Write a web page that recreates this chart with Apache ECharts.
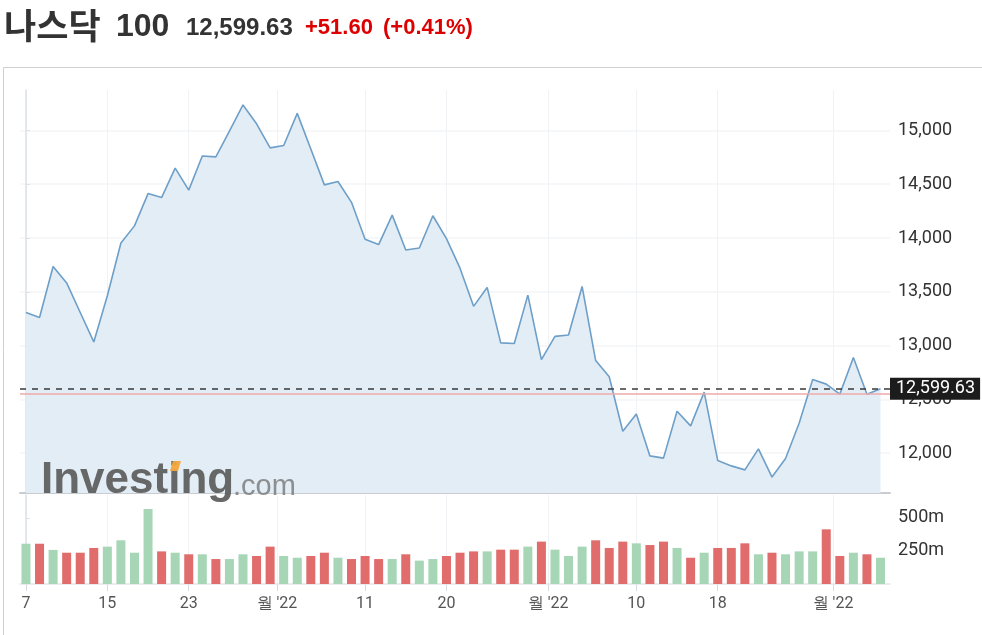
<!DOCTYPE html>
<html><head><meta charset="utf-8">
<script src="https://cdn.jsdelivr.net/npm/echarts@6/dist/echarts.min.js"></script>
<style>html,body{margin:0;padding:0;background:#fff}#c{width:982px;height:635px}</style>
</head><body><div id="c"></div>
<script>
// ---- data ----
const titleKo = '나스닥';
const titleNum = '100';
const lastPriceText = '12,599.63';
const changeText = '+51.60';
const changePctText = '(+0.41%)';

const closes = [13308,13261,13736,13583,13308,13034,13464,13954,14113,14413,
  14376,14650,14445,14763,14754,14994,15237,15062,14838,14860,
  15159,14828,14494,14525,14332,13989,13939,14213,13889,13907,
  14207,13995,13720,13365,13541,13025,13019,13469,12870,13086,
  13099,13550,12861,12710,12204,12365,11975,11954,12390,12254,
  12568,11931,11882,11845,12040,11778,11951,12278,12685,12642,
  12549,12889,12548,12599.63];
const volumes = [305,305,258,237,237,273,283,331,237,568,
  247,237,225,225,189,189,225,212,283,212,
  199,212,237,199,189,212,189,189,225,177,
  189,212,237,247,247,260,260,283,321,260,
  212,283,331,273,321,308,295,321,273,199,
  237,273,273,308,225,237,225,247,247,414,
  212,237,225,199];
const xTickPos = [0,6,12,18.5,25,31,38.5,45,51,59.5];
const xTickLabels = ['7','15','23',"월 '22",'11','20',"월 '22",'10','18',"월 '22"];
const priceTicks = [12000,12500,13000,13500,14000,14500,15000];
const volTicks = [250,500];
const lastPrice = 12599.63;
const prevClose = 12548.03;

// ---- chart ----
const GREEN = '#a6d6b6', RED = '#e06c6c';
const lineData = closes.map((v, i) => [i, v]);
const barData = volumes.map((v, i) => ({
  value: [i, v],
  itemStyle: { color: (i === 0 || closes[i] >= closes[i - 1]) ? GREEN : RED }
}));
const xLabelFmt = v => {
  for (let k = 0; k < xTickPos.length; k++) if (Math.abs(xTickPos[k] - v) < 1e-6) return xTickLabels[k];
  return '';
};
const fmtNum = v => v.toLocaleString('en-US');
const AX_FONT = 'Roboto';

const chart = echarts.init(document.getElementById('c'), null, { renderer: 'canvas' });
chart.setOption({
  animation: false,
  backgroundColor: '#fff',
  grid: [
    { left: 20, right: 92, top: 90, height: 403 },
    { left: 20, right: 92, top: 495, height: 89 }
  ],
  xAxis: [
    { type: 'value', gridIndex: 0, min: -0.44, max: 63.7,
      axisLine: { show: true, onZero: false, lineStyle: { color: '#c9ccd0', width: 2 } },
      axisTick: { show: false, customValues: xTickPos },
      axisLabel: { show: false, customValues: xTickPos },
      splitLine: { show: true, lineStyle: { color: '#f0f2f5', width: 1 } } },
    { type: 'value', gridIndex: 1, min: -0.44, max: 63.7,
      axisLine: { show: true, onZero: false, lineStyle: { color: '#e3e6ea', width: 1.5 } },
      axisTick: { show: true, length: 7, customValues: xTickPos, lineStyle: { color: '#d8dbe0' } },
      axisLabel: { show: true, customValues: xTickPos, formatter: xLabelFmt,
        fontFamily: AX_FONT, fontSize: 16, color: '#555', margin: 12 },
      splitLine: { show: true, lineStyle: { color: '#f0f2f5', width: 1 } } }
  ],
  yAxis: [
    { type: 'value', gridIndex: 0, position: 'right', min: 11630, max: 15376,
      axisLine: { show: true, lineStyle: { color: '#dde2e8', width: 1.5 } },
      axisTick: { show: true, length: 4, customValues: priceTicks, lineStyle: { color: '#dde2e8' } },
      axisLabel: { show: true, customValues: priceTicks, formatter: fmtNum,
        fontFamily: AX_FONT, fontSize: 18, color: '#333', margin: 8 },
      splitLine: { show: true, lineStyle: { color: '#f3f4f6', width: 1.5 } } },
    { type: 'value', gridIndex: 1, position: 'right', min: 0, max: 674,
      axisLine: { show: true, lineStyle: { color: '#dde2e8', width: 1.5 } },
      axisTick: { show: true, length: 4, customValues: volTicks, lineStyle: { color: '#dde2e8' } },
      axisLabel: { show: true, customValues: volTicks, formatter: v => v + 'm',
        fontFamily: AX_FONT, fontSize: 18, color: '#333', margin: 8 },
      splitLine: { show: false } }
  ],
  series: [
    { type: 'line', xAxisIndex: 0, yAxisIndex: 0, data: lineData,
      symbol: 'none', z: 3,
      lineStyle: { color: '#6e9fc8', width: 1.6 },
      areaStyle: { color: '#e3edf6', opacity: 1 },
      markLine: {
        symbol: 'none', silent: true, animation: false,
        data: [
          { yAxis: prevClose, lineStyle: { color: '#eeaaaa', type: 'solid', width: 1.5 }, label: { show: false } },
          { yAxis: lastPrice, lineStyle: { color: '#3a3a3a', type: [6, 6], width: 1.5 },
            label: { show: true, position: 'end', distance: 0, formatter: lastPriceText,
              backgroundColor: '#1c1c1c', color: '#fff', fontFamily: AX_FONT, fontSize: 18,
              padding: [2, 5, 2, 6], lineHeight: 18 } }
        ]
      } },
    { type: 'bar', xAxisIndex: 1, yAxisIndex: 1, data: barData, barWidth: 9, z: 2 }
  ],
  graphic: [
    { type: 'rect', z: 0, silent: true, shape: { x: 3.5, y: 67.5, width: 1000, height: 600 },
      style: { fill: 'none', stroke: '#d0d0d0', lineWidth: 1 } },
    { type: 'text', x: 4, y: 26, z: 10, style: { text: titleKo, fill: '#333',
      font: "bold 35px 'Noto Sans CJK KR',sans-serif", textVerticalAlign: 'middle' } },
    { type: 'text', x: 116, y: 27, z: 10, style: { text: titleNum, fill: '#333',
      font: "bold 32px 'Liberation Sans',sans-serif", textVerticalAlign: 'middle' } },
    { type: 'text', x: 186, y: 28, z: 10, style: { text: lastPriceText, fill: '#333',
      font: "bold 24px 'Liberation Sans',sans-serif", textVerticalAlign: 'middle' } },
    { type: 'text', x: 305, y: 28, z: 10, style: { text: changeText, fill: '#dd0000',
      font: "bold 22px 'Liberation Sans',sans-serif", textVerticalAlign: 'middle' } },
    { type: 'text', x: 383, y: 28, z: 10, style: { text: changePctText, fill: '#dd0000',
      font: "bold 22px 'Liberation Sans',sans-serif", textVerticalAlign: 'middle' } },
    { type: 'text', x: 41, y: 481, z: 20, silent: true, style: { text: 'Investing', fill: 'rgba(88,88,88,0.9)',
      font: "bold 44px 'Liberation Sans',sans-serif", textVerticalAlign: 'middle' } },
    { type: 'polygon', z: 21, silent: true, shape: { points: [[170, 471], [178, 471], [181, 461], [173, 461]] },
      style: { fill: 'rgba(244,168,60,0.95)' } },
    { type: 'text', x: 233, y: 487, z: 20, silent: true, style: { text: '.com', fill: 'rgba(125,125,125,0.85)',
      font: "29px 'Liberation Sans',sans-serif", textVerticalAlign: 'middle' } }
  ]
});
</script>
</body></html>
